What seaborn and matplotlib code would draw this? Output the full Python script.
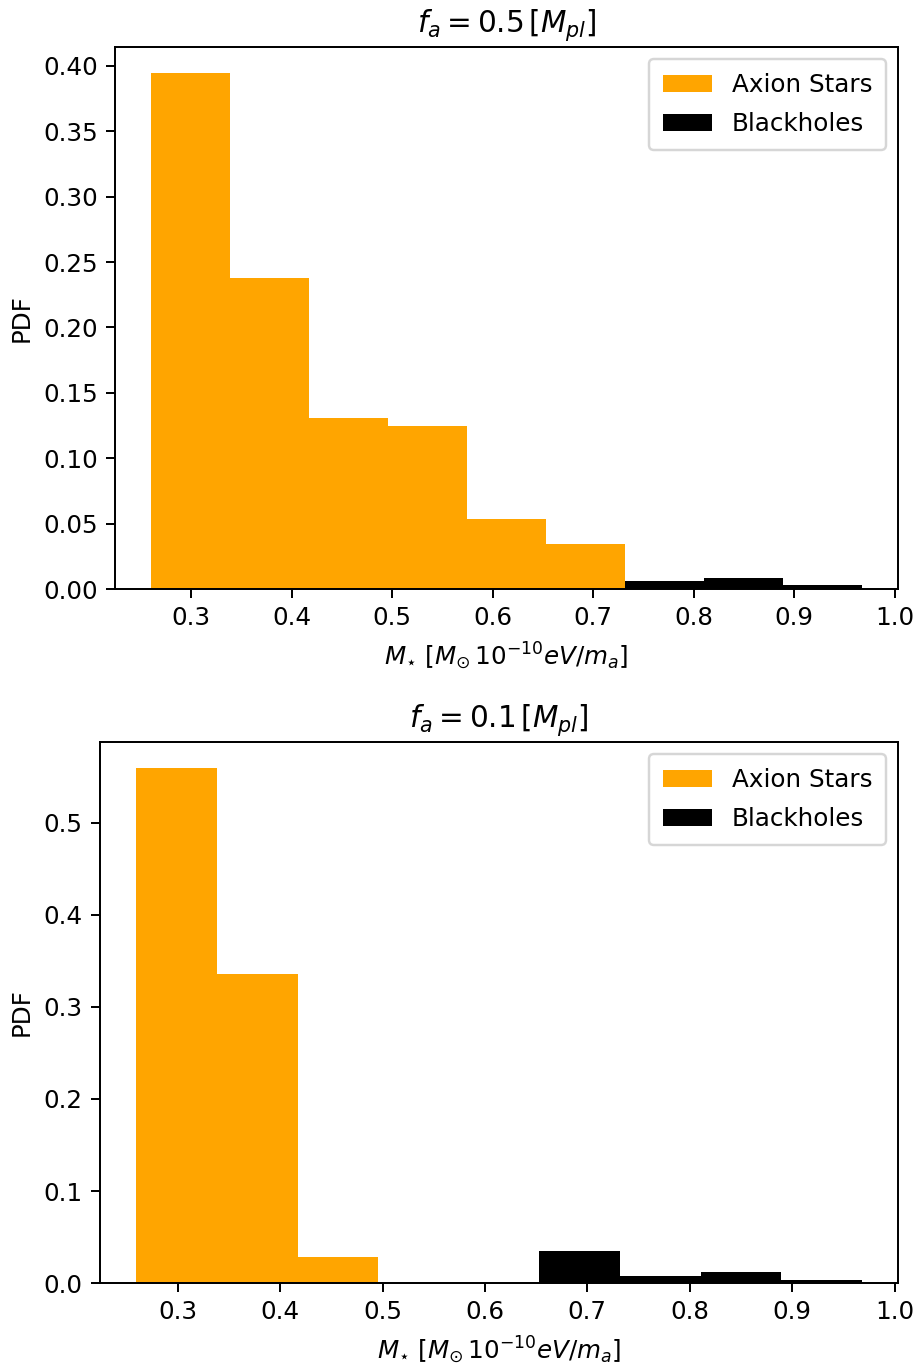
import numpy as np
import pandas as pd
import matplotlib
matplotlib.use("Agg")
import matplotlib.pyplot as plt
import seaborn as sns

# Shared bin layout (mass range of the sample)
mass_min, mass_max, n_bins = 0.2595, 0.968, 9
edges = np.linspace(mass_min, mass_max, n_bins + 1)
centers = 0.5 * (edges[:-1] + edges[1:])

# Panel 1: f_a = 0.5 M_pl
axion_pdf_05 = [0.3947, 0.238, 0.1305, 0.1244, 0.0534, 0.0344, 0.0, 0.0, 0.0]
bh_pdf_05 = [0.0, 0.0, 0.0, 0.0, 0.0, 0.0, 0.0065, 0.0087, 0.0030]

# Panel 2: f_a = 0.1 M_pl
axion_pdf_01 = [0.5597, 0.336, 0.0282, 0.0, 0.0, 0.0, 0.0, 0.0, 0.0]
bh_pdf_01 = [0.0, 0.0, 0.0, 0.0, 0.0, 0.0343, 0.0082, 0.0115, 0.0028]

titles = [r'$f_a = 0.5\,[M_{pl}]$', r'$f_a = 0.1\,[M_{pl}]$']
xlabel = r'$M_{\star}\ [M_{\odot}\, 10^{-10} eV/m_a]$'

DPI = 177
plt.rcParams['font.size'] = 10
fig = plt.figure(figsize=(917 / DPI, 1367 / DPI), dpi=DPI)
ax1 = fig.add_axes([0.1254, 0.5691, 0.9793 - 0.1254, 0.9656 - 0.5691])
ax2 = fig.add_axes([0.1091, 0.0614, 0.9793 - 0.1091, 0.4572 - 0.0614])

panels = [(ax1, axion_pdf_05, bh_pdf_05, titles[0]),
          (ax2, axion_pdf_01, bh_pdf_01, titles[1])]

for ax, ax_pdf, bh_pdf, title in panels:
    for vals, col, lab in [(ax_pdf, 'orange', 'Axion Stars'),
                           (bh_pdf, 'black', 'Blackholes')]:
        df = pd.DataFrame({'mass': centers, 'pdf': vals})
        sns.histplot(data=df, x='mass', weights='pdf', bins=n_bins,
                     binrange=(mass_min, mass_max), color=col,
                     alpha=1.0, linewidth=0, ax=ax, label=lab)
    ax.set_title(title, fontsize=12)
    ax.set_xlabel(xlabel)
    ax.set_ylabel('PDF')
    ax.set_xticks([0.3, 0.4, 0.5, 0.6, 0.7, 0.8, 0.9, 1.0])
    ax.legend(loc='upper right', labelspacing=0.62, borderpad=0.55)

yt = np.arange(0, 0.41, 0.05)
ax1.set_yticks(yt)
ax1.set_yticklabels([f'{v:.2f}' for v in yt])

fig.savefig('out.png', dpi=DPI)
